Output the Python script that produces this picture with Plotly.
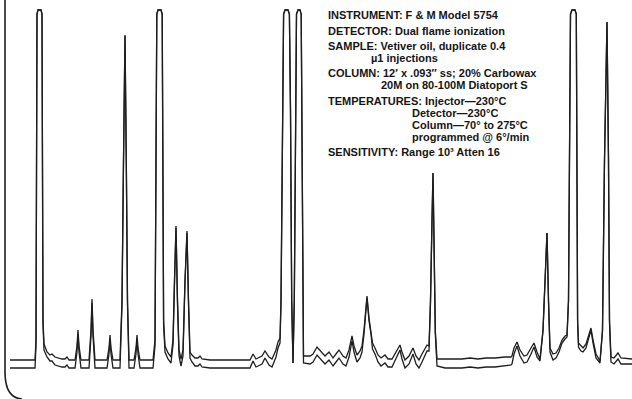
import plotly.graph_objects as go

# Retention position (chart x units) and detector response of the first injection
RET = [10, 35, 36, 36.6, 37, 38, 41, 42, 42.6, 43, 44, 47, 50, 52, 55, 62, 65, 67, 69,
       75, 77, 78, 79, 81, 89, 91, 92, 93, 95, 107, 109, 110, 111, 113,
       120, 122, 123.5, 125, 126.3, 127.5, 129, 134, 136, 137, 138, 140,
       153, 155, 156, 156.8, 158, 161, 162.2, 163, 163.6, 165, 168, 171,
       173, 174.5, 176, 177.5, 179, 181, 183, 185, 187, 188.5, 190, 192, 195, 198, 200, 202,
       210, 250, 253, 256, 262, 265, 269, 272, 276, 278, 280, 281, 282.5, 283.6, 285, 288,
       289.4, 290.5, 291.7, 293, 294.3, 295.5, 296.5, 298, 300, 301.2, 302, 302.7, 303.5,
       310, 313, 317, 321, 325, 329, 333, 336, 339, 343, 346, 349, 352, 354, 357, 360,
       362, 364, 367, 369, 371, 372.5, 375, 378, 381, 385, 388, 392, 396, 400, 402, 405,
       409, 413, 416, 419, 422, 425, 427, 429, 430.5, 432, 433, 434, 435.3, 437,
       445, 462, 470, 478, 486, 495, 505, 511,
       512, 514, 517, 520, 524, 527, 531, 534, 537, 540, 543, 545, 547, 548.5, 550, 553,
       556, 559, 562, 565, 567, 568.5, 569.5, 570.5, 572, 575, 576.3, 577, 577.6, 578.5,
       581, 583, 586, 589, 591, 593, 596, 600, 602.5, 604.5, 607, 608.5, 609.5, 611,
       614, 618, 621, 632]

RESP_1 = [0, 0, 20, 200, 346, 350, 350, 346, 200, 40, 16, 8, 5, 6, 3, 1, 1, 3, 0,
          0, 14, 30, 14, 0, 0, 30, 61, 30, 0, 0, 12, 25, 12, 0,
          0, 60, 200, 325, 200, 60, 0, 0, 12, 25, 12, 0,
          0, 20, 200, 346, 350, 350, 346, 200, 40, 14, 7, 3,
          20, 80, 134, 60, 10, 1, 10, 80, 129, 60, 8, 5, 2, 2, 4, 1,
          0, 0, 6, 1, 4, 9, 3, 1, 10, 18, 22, 60, 250, 346, 350, 350,
          346, 250, 60, -3, 60, 250, 346, 350, 350, 346, 200, 40, 4,
          4, 6, 13, 8, 4, 8, 2, 6, 10, 4, 2, 10, 24, 14, 5, 9,
          14, 30, 64, 42, 30, 17, 12, 5, 2, 5, 1, 1, 8, 15, 8, 0,
          4, 12, 4, 0, 6, 12, 15, 14, 60, 140, 187, 120, 30, 1,
          1, 1, 2, 1, 2, 2, 3, 3,
          4, 12, 18, 10, 4, 5, 12, 17, 8, 1, 30, 80, 127, 60, 12, 6,
          7, 12, 20, 24, 25, 60, 250, 346, 350, 350, 346, 200, 40, 17,
          14, 12, 16, 26, 32, 20, 6, -1, 30, 200, 338, 200, 40, 3,
          2, 7, 2, 1]

# How far the duplicate (second) injection trace sits below the first one
SHIFT_2 = [8, 8, 6, 2, 0, 0, 0, 0, 2, 5, 6, 5, 6, 7, 8, 8, 8, 8, 8,
           8, 6, 4, 6, 8, 8, 6, 4, 6, 8, 8, 6, 4, 6, 8,
           8, 5, 3, 1, 3, 5, 8, 8, 6, 4, 6, 8,
           8, 6, 2, 0, 0, 0, 0, 2, 5, 6, 6, 6,
           5, 3, 2, 4, 6, 7, 6, 3, 2, 4, 6, 7, 8, 8, 8, 8,
           8, 8, 7, 8, 8, 7, 8, 8, 7, 6, 5, 4, 2, 0, 0, 0,
           0, 1, 1, 0, 1, 1, 0, 0, 0, 0, 2, 4, 7,
           8, 8, 8, 8, 8, 8, 8, 8, 8, 8, 8, 7, 5, 6, 7, 7,
           6, 4, 2, 3, 4, 6, 6, 7, 8, 8, 8, 8, 7, 5, 7, 8,
           8, 6, 8, 8, 8, 7, 6, 5, 3, 1, 0, 1, 4, 7,
           9, 9, 9, 9, 9, 9, 9, 8,
           8, 6, 4, 6, 7, 7, 6, 4, 5, 2, 1, 1, 0, 1, 4, 6,
           5, 4, 3, 3, 2, 1, 0, 0, 0, 0, 0, 1, 3, 4,
           5, 4, 4, 3, 2, 3, 4, 2, 1, 0, 0, 0, 3, 5,
           6, 6, 6, 5]

RESP_2 = [r - s for r, s in zip(RESP_1, SHIFT_2)]

INFO_LINES = [
    ("INSTRUMENT: F & M Model 5754", 327, 15),
    ("DETECTOR: Dual flame ionization", 327, 31),
    ("SAMPLE: Vetiver oil, duplicate 0.4", 327, 46),
    ("µ1 injections", 370, 58),
    ("COLUMN: 12′ x .093″ ss; 20% Carbowax", 327, 73),
    ("20M on 80-100M Diatoport S", 380, 85),
    ("TEMPERATURES: Injector—230°C", 327, 101),
    ("Detector—230°C", 411, 113),
    ("Column—70° to 275°C", 411, 125),
    ("programmed @ 6°/min", 411, 137),
    ("SENSITIVITY: Range 10³ Atten 16", 327, 152),
]

W, H = 632, 399
TOP = 360  # response value at the top edge of the picture

fig = go.Figure()
for ys in (RESP_1, RESP_2):
    fig.add_trace(go.Scatter(x=RET, y=ys, mode="lines",
                             line=dict(color="#1e1e1e", width=1.3),
                             hoverinfo="skip", showlegend=False))

# chart paper edge (curved frame at left)
fig.add_shape(type="path", path=f"M 5 {TOP} L 5 -12 Q 5 -38 22 -39",
              line=dict(color="#1e1e1e", width=1.6), xref="x", yref="y")

for text, px, py in INFO_LINES:
    fig.add_annotation(x=px, y=TOP - py, xref="x", yref="y", text=text,
                       showarrow=False, xanchor="left", yanchor="middle", borderpad=0,
                       font=dict(family="Liberation Sans", size=11, color="#151515", weight=700))

fig.update_xaxes(visible=False, range=[0, W], fixedrange=True)
fig.update_yaxes(visible=False, range=[TOP - H, TOP], fixedrange=True)
fig.update_layout(width=W, height=H, margin=dict(l=0, r=0, t=0, b=0),
                  paper_bgcolor="white", plot_bgcolor="white")
fig.write_html("out.html", config={"displayModeBar": False},
               post_script="document.body.style.margin='0';document.body.style.overflow='hidden';")
